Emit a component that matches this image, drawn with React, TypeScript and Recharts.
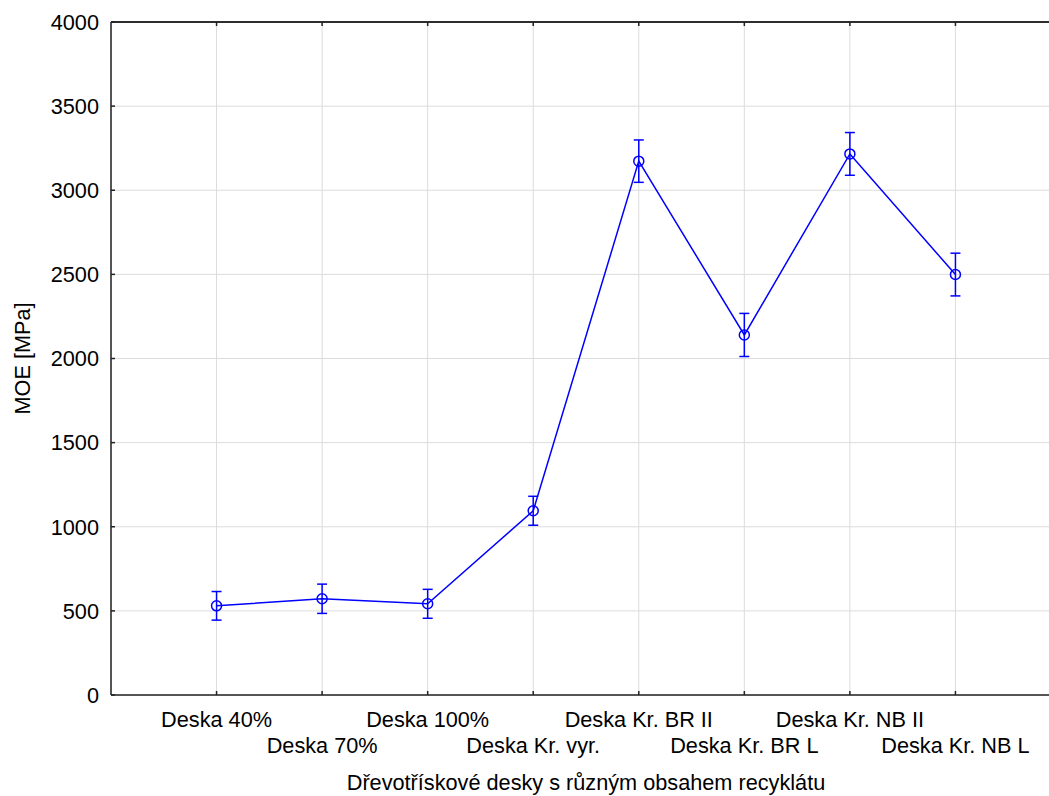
import { CartesianGrid, ErrorBar, Label, Line, LineChart, ReferenceLine, XAxis, YAxis } from "recharts";

const categories = [
  "Deska 40%",
  "Deska 70%",
  "Deska 100%",
  "Deska Kr. vyr.",
  "Deska Kr. BR II",
  "Deska Kr. BR L",
  "Deska Kr. NB II",
  "Deska Kr. NB L",
];
const moeMeans = [530, 572, 542, 1095, 3173, 2140, 3216, 2499];
const moeErrors = [85, 87, 86, 86, 126, 128, 127, 127];
const yTicks = [0, 500, 1000, 1500, 2000, 2500, 3000, 3500, 4000];
const xTicks = [1, 2, 3, 4, 5, 6, 7, 8];

const data = categories.map((name, i) => ({
  x: i + 1,
  name,
  moe: moeMeans[i],
  err: moeErrors[i],
}));

const font = "'Liberation Sans', Arial, sans-serif";
const fontSize = 21.7;
const blue = "#0000ff";
const axisColor = "#222222";
const gridColor = "#dcdcdc";

function BottomTick(props: any) {
  const { x, y, payload } = props;
  const idx = payload.value - 1;
  const row = idx % 2;
  return (
    <g>
      <line x1={x} x2={x} y1={y - 4} y2={y} stroke={axisColor} strokeWidth={1.5} />
      <text
        x={x}
        y={y + (row === 0 ? 32 : 58)}
        textAnchor="middle"
        fontFamily={font}
        fontSize={fontSize}
        fill="#000"
      >
        {categories[idx]}
      </text>
    </g>
  );
}

function TopTick(props: any) {
  const { x, y } = props;
  return <line x1={x} x2={x} y1={y} y2={y + 4} stroke={axisColor} strokeWidth={1.5} />;
}

function LeftTick(props: any) {
  const { x, y, payload } = props;
  return (
    <g>
      <line x1={x} x2={x + 4} y1={y} y2={y} stroke={axisColor} strokeWidth={1.5} />
      <text
        x={x - 12}
        y={y}
        dy="0.36em"
        textAnchor="end"
        fontFamily={font}
        fontSize={fontSize}
        fill="#000"
      >
        {payload.value}
      </text>
    </g>
  );
}

function Marker(props: any) {
  const { cx, cy } = props;
  if (cx == null || cy == null) return null;
  return <circle cx={cx} cy={cy} r={5} stroke={blue} strokeWidth={1.5} fill="none" />;
}

export default function App() {
  return (
    <div
      style={{
        position: "fixed",
        left: 0,
        top: 0,
        width: 1049,
        height: 796,
        overflow: "hidden",
        background: "#fff",
      }}
    >
      <LineChart
        width={1080}
        height={796}
        data={data}
        margin={{ top: 21, right: 19, bottom: 0, left: 0 }}
      >
        <CartesianGrid stroke={gridColor} strokeWidth={1} />
        <XAxis
          dataKey="x"
          type="number"
          domain={[0, 9]}
          ticks={xTicks}
          interval={0}
          height={101}
          tickSize={0}
          tickMargin={0}
          axisLine={{ stroke: axisColor, strokeWidth: 1.5 }}
          tickLine={false}
          tick={<BottomTick />}
        >
          <Label
            content={(p: any) => {
              const vb = p.viewBox;
              return (
                <text
                  x={vb.x + vb.width / 2}
                  y={vb.y + 95}
                  textAnchor="middle"
                  fontFamily={font}
                  fontSize={fontSize}
                  fill="#000"
                >
                  Dřevotřískové desky s různým obsahem recyklátu
                </text>
              );
            }}
          />
        </XAxis>
        <XAxis
          xAxisId="top"
          orientation="top"
          dataKey="x"
          type="number"
          domain={[0, 9]}
          ticks={xTicks}
          interval={0}
          height={1}
          tickSize={0}
          tickMargin={0}
          axisLine={{ stroke: axisColor, strokeWidth: 1.5 }}
          tickLine={false}
          tick={<TopTick />}
        />
        <YAxis
          type="number"
          domain={[0, 4000]}
          ticks={yTicks}
          interval={0}
          width={111}
          tickSize={0}
          tickMargin={0}
          axisLine={{ stroke: axisColor, strokeWidth: 1.5 }}
          tickLine={false}
          tick={<LeftTick />}
        >
          <Label
            content={(p: any) => {
              const vb = p.viewBox;
              const cx = vb.x + 22;
              const cy = vb.y + vb.height / 2;
              return (
                <text
                  x={cx}
                  y={cy}
                  transform={`rotate(-90, ${cx}, ${cy})`}
                  textAnchor="middle"
                  dominantBaseline="central"
                  fontFamily={font}
                  fontSize={fontSize}
                  fill="#000"
                >
                  MOE [MPa]
                </text>
              );
            }}
          />
        </YAxis>
        <ReferenceLine y={4000} stroke={axisColor} strokeWidth={1.5} ifOverflow="visible" />
        <Line
          type="linear"
          dataKey="moe"
          stroke={blue}
          strokeWidth={1.5}
          dot={<Marker />}
          activeDot={false}
          isAnimationActive={false}
        >
          <ErrorBar dataKey="err" width={5} stroke={blue} strokeWidth={1.5} direction="y" />
        </Line>
      </LineChart>
    </div>
  );
}
